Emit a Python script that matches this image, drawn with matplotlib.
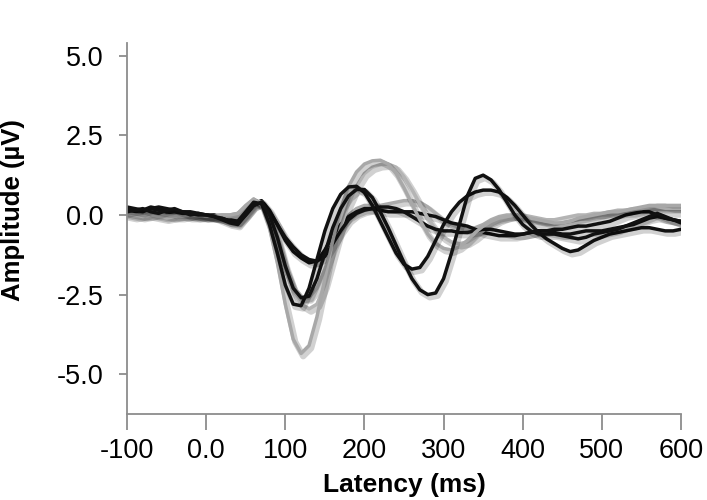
import numpy as np
import matplotlib.pyplot as plt
import matplotlib.patheffects as pe

plt.rcParams['font.family'] = ['Liberation Sans', 'DejaVu Sans']

# latency axis, 10 ms steps
latency = list(range(-100, 601, 10))

# black waveforms
black_a = [0.2, 0.15, 0.1, 0.2, 0.15, 0.1, 0.1, 0.05, 0.05, 0.0,        # -100..-10
           0.0, -0.05, -0.1, -0.2,                                       # 0..30
           -0.2, 0.1, 0.4, 0.35, -0.3, -1.2, -2.2, -2.8, -2.85, -2.3,    # 40..130
           -1.4, -0.5, 0.2, 0.65, 0.88, 0.9, 0.7, 0.3, -0.2, -0.7,       # 140..230
           -1.2, -1.55, -1.7, -1.65, -1.3, -0.8, -0.3, 0.1, 0.4, 0.6,    # 240..330
           0.72, 0.78, 0.78, 0.72, 0.55, 0.3, 0.0, -0.3, -0.55, -0.75,   # 340..430
           -0.9, -1.05, -1.15, -1.1, -0.95, -0.8, -0.7, -0.6, -0.55, -0.5,  # 440..530
           -0.45, -0.4, -0.4, -0.45, -0.5, -0.5, -0.45]                  # 540..600
black_b = [0.1, 0.15, 0.2, 0.1, 0.05, 0.15, 0.2, 0.1, 0.0, 0.05,
           0.0, -0.05, -0.15, -0.25,
           -0.3, 0.0, 0.3, 0.4, 0.0, -0.7, -1.6, -2.3, -2.6, -2.55,
           -2.0, -1.2, -0.4, 0.2, 0.6, 0.8, 0.8, 0.55, 0.1, -0.4,
           -0.95, -1.5, -2.0, -2.35, -2.5, -2.45, -2.0, -1.2, -0.3, 0.6,
           1.15, 1.25, 1.1, 0.8, 0.4, 0.0, -0.3, -0.5, -0.6, -0.6,
           -0.6, -0.65, -0.7, -0.75, -0.7, -0.6, -0.55, -0.5, -0.45, -0.35,
           -0.25, -0.15, -0.05, 0.05, -0.05, -0.15, -0.25]
black_c = [0.25, 0.2, 0.15, 0.2, 0.25, 0.2, 0.15, 0.1, 0.1, 0.05,
           0.0, 0.0, -0.1, -0.2,
           -0.25, 0.0, 0.3, 0.4, 0.1, -0.3, -0.7, -1.0, -1.25, -1.4,
           -1.45, -1.3, -0.9, -0.5, -0.15, 0.05, 0.15, 0.2, 0.25, 0.25,
           0.2, 0.1, -0.05, -0.2, -0.35, -0.45, -0.5, -0.5, -0.55, -0.55,
           -0.5, -0.45, -0.45, -0.5, -0.55, -0.6, -0.6, -0.55, -0.5, -0.5,
           -0.55, -0.6, -0.6, -0.55, -0.5, -0.5, -0.5, -0.45, -0.4, -0.35,
           -0.3, -0.2, -0.1, -0.05, -0.1, -0.15, -0.2]
black_d = [0.15, 0.1, 0.15, 0.25, 0.2, 0.1, 0.05, 0.1, 0.05, 0.0,
           -0.05, -0.05, -0.1, -0.15,
           -0.2, 0.05, 0.35, 0.45, 0.15, -0.3, -0.8, -1.15, -1.35, -1.5,
           -1.45, -1.1, -0.65, -0.3, -0.05, 0.1, 0.2, 0.2, 0.15, 0.1,
           0.1, 0.1, 0.1, 0.05, 0.0, -0.05, -0.15, -0.25, -0.3, -0.35,
           -0.45, -0.55, -0.6, -0.65, -0.65, -0.65, -0.6, -0.55, -0.5, -0.5,
           -0.45, -0.45, -0.4, -0.35, -0.35, -0.3, -0.25, -0.2, -0.1, 0.0,
           0.05, 0.1, 0.1, 0.0, -0.1, -0.15, -0.2]

# grey waveforms
grey_e = [0.05, 0.0, -0.05, 0.0, -0.05, -0.1, -0.05, -0.05, 0.0, 0.0,
          -0.05, -0.05, 0.0, 0.0,
          0.05, 0.3, 0.5, 0.3, -0.4, -1.5, -2.8, -3.9, -4.35, -4.1,
          -3.2, -2.0, -0.8, 0.2, 0.9, 1.35, 1.6, 1.7, 1.72, 1.6,
          1.3, 0.85, 0.35, -0.15, -0.6, -0.9, -1.05, -1.1, -1.0, -0.8,
          -0.55, -0.35, -0.2, -0.1, -0.05, 0.0, -0.05, -0.1, -0.15, -0.2,
          -0.25, -0.25, -0.2, -0.1, -0.05, 0.0, 0.05, 0.1, 0.1, 0.15,
          0.2, 0.25, 0.3, 0.3, 0.3, 0.3, 0.3]
grey_f = [0.0, -0.05, 0.0, 0.05, 0.0, -0.05, 0.0, 0.0, -0.05, -0.05,
          0.0, -0.05, -0.05, -0.05,
          0.0, 0.2, 0.45, 0.4, -0.1, -0.8, -1.7, -2.4, -2.8, -2.95,
          -2.8, -2.2, -1.3, -0.4, 0.35, 0.9, 1.3, 1.5, 1.58, 1.6,
          1.5, 1.2, 0.8, 0.35, -0.1, -0.45, -0.7, -0.85, -0.9, -0.85,
          -0.7, -0.5, -0.3, -0.15, -0.05, 0.0, 0.0, -0.05, -0.1, -0.15,
          -0.15, -0.1, -0.05, 0.0, 0.0, 0.05, 0.05, 0.1, 0.15, 0.15,
          0.2, 0.2, 0.25, 0.3, 0.3, 0.25, 0.25]
grey_g = [0.1, 0.05, 0.0, 0.0, 0.05, 0.0, -0.05, 0.0, 0.0, -0.05,
          -0.05, 0.0, 0.0, 0.0,
          0.05, 0.25, 0.5, 0.35, -0.2, -0.9, -1.7, -2.3, -2.6, -2.6,
          -2.3, -1.7, -1.0, -0.4, 0.0, 0.2, 0.3, 0.3, 0.3, 0.35,
          0.4, 0.45, 0.45, 0.4, 0.25, 0.05, -0.15, -0.3, -0.4, -0.45,
          -0.4, -0.3, -0.15, -0.05, 0.0, 0.0, -0.05, -0.15, -0.25, -0.3,
          -0.3, -0.25, -0.2, -0.15, -0.1, -0.05, 0.0, 0.0, 0.05, 0.1,
          0.1, 0.15, 0.2, 0.15, 0.1, 0.1, 0.1]

x_ticks = [-100, 0, 100, 200, 300, 400, 500, 600]
x_labels = ['-100', '0.0', '100', '200', '300', '400', '500', '600']
y_ticks = [-5.0, -2.5, 0.0, 2.5, 5.0]
y_labels = ['-5.0', '-2.5', '0.0', '2.5', '5.0']

axis_grey = '#8c8c8c'
shadow = [pe.SimpleLineShadow(offset=(1.5, -2), shadow_color='k', alpha=0.18, linewidth=4.5),
          pe.Normal()]

fig = plt.figure(figsize=(7.07, 5.0), dpi=100)
ax = fig.add_axes([127/707, 86/500, 554/707, 371/500])

order = [(grey_g, '#ababab'), (black_d, '#111111'), (grey_f, '#b4b4b4'),
         (black_c, '#111111'), (grey_e, '#a8a8a8'), (black_a, '#111111'),
         (black_b, '#111111')]
for wave, col in order:
  ax.plot(latency, wave, color=col, linewidth=2.5, solid_capstyle='round',
          solid_joinstyle='round', path_effects=shadow)

ax.set_xlim(-100, 600)
ax.set_ylim(-6.25, 5.4)
ax.set_xticks(x_ticks)
ax.set_xticklabels(x_labels)
ax.set_yticks(y_ticks)
ax.set_yticklabels(y_labels)
ax.set_xticks([600], minor=True)

for s in ['top', 'right']:
  ax.spines[s].set_visible(False)
for s in ['left', 'bottom']:
  ax.spines[s].set_color(axis_grey)
  ax.spines[s].set_linewidth(1.3)

ax.tick_params(axis='x', which='major', direction='out', length=11.5, width=1.3,
               color=axis_grey, labelsize=19.5, pad=6)
ax.tick_params(axis='x', which='minor', direction='in', length=11.5, width=1.3,
               color=axis_grey)
ax.tick_params(axis='y', direction='out', length=6, width=1.3, color=axis_grey,
               labelsize=19.5, pad=11)

ax.set_xlabel('Latency (ms)', fontsize=19, fontweight='bold', labelpad=6)
ax.set_ylabel('Amplitude (µV)', fontsize=18.5, fontweight='bold', labelpad=10)
ax.yaxis.set_label_coords(-0.185, 0.55)

fig.savefig('out.png', dpi=100)
